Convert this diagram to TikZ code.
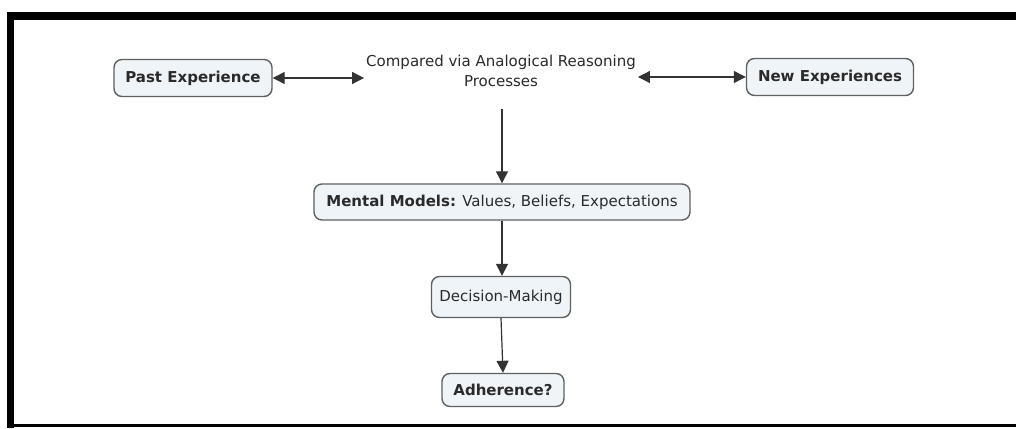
\documentclass[tikz,border=0pt]{standalone}
\usepackage{fontspec}
\setmainfont{DejaVu Sans}
\usetikzlibrary{arrows.meta}
\definecolor{boxfill}{HTML}{EEF4F8}
\definecolor{boxline}{HTML}{606060}
\definecolor{txt}{HTML}{2A2A2A}
\begin{document}
\begin{tikzpicture}[x=1pt,y=-1pt,
  cbox/.style={draw=boxline,line width=1.4pt,fill=boxfill,rounded corners=8pt,
    font=\fontsize{15}{17}\selectfont,text=txt,inner xsep=6pt,inner ysep=0pt},
  conn/.style={draw=black!80,line width=1.2pt,-{Triangle[length=12pt,width=12pt]}},
  dconn/.style={draw=black!80,line width=1.2pt,{Triangle[length=12pt,width=12pt]}-{Triangle[length=12pt,width=12pt]}}]
\useasboundingbox (0,0) rectangle (1016,428);
\fill[white] (0,0) rectangle (1016,428);
% frame
\fill[black] (7,12) rectangle (1016,20);
\fill[black] (7,12) rectangle (14,428);
\fill[black] (14,424) rectangle (1016,427);
% nodes
\node[cbox,minimum width=158pt,minimum height=37pt] (past) at (193,78) {\textbf{Past Experience}};
\node[cbox,minimum width=167pt,minimum height=37pt] (new) at (830,77) {\textbf{New Experiences}};
\node[font=\fontsize{15}{20}\selectfont,text=txt,align=center,inner xsep=2pt] (cmp) at (501,71) {Compared via Analogical Reasoning\\Processes};
\node[cbox,minimum width=376pt,minimum height=36pt] (mm) at (502,202) {\textbf{Mental Models:} Values, Beliefs, Expectations};
\node[cbox,minimum width=139pt,minimum height=41pt] (dm) at (501,297) {Decision-Making};
\node[cbox,minimum width=122pt,minimum height=33pt] (adh) at (503,390) {\textbf{Adherence?}};
% connectors
\draw[dconn] (past.east) -- (past.east -| cmp.west);
\draw[dconn] (cmp.east |- new.west) -- (new.west);
\draw[conn,shorten <=19pt] (cmp.south -| mm.north) -- (mm.north);
\draw[conn] (mm.south) -- (mm.south |- dm.north);
\draw[conn] (dm.south) -- (adh.north);
\end{tikzpicture}
\end{document}
